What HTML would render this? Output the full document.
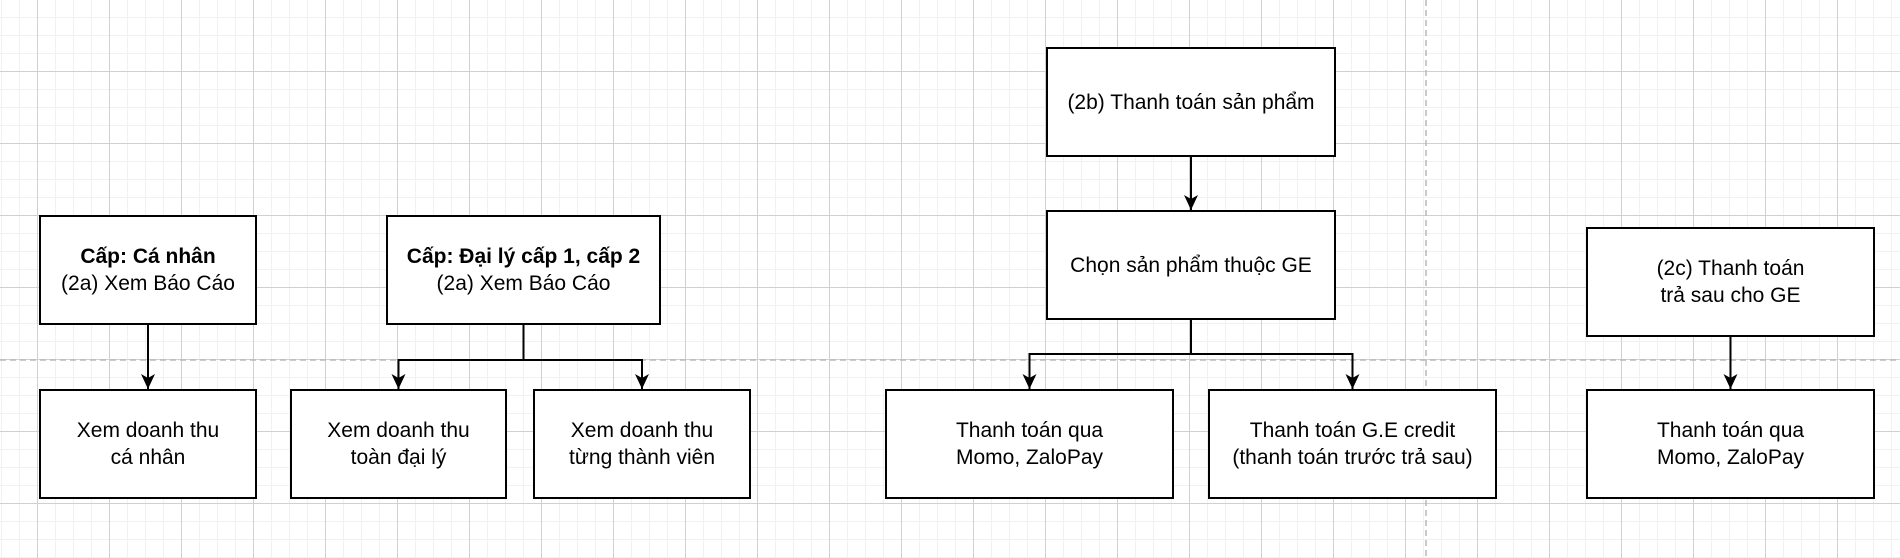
<!DOCTYPE html>
<html><head><meta charset="utf-8"><style>
html,body{margin:0;padding:0;background:#fff;}
svg{display:block;}
text{font-family:"Liberation Sans",Arial,sans-serif;font-size:21px;fill:#000;text-anchor:middle;}
</style></head><body>
<svg width="1900" height="558" xmlns="http://www.w3.org/2000/svg">
<defs>
<pattern id="minor" x="1" y="-1" width="18" height="18" patternUnits="userSpaceOnUse">
<path d="M0 0H18M0 0V18" stroke="#f1f1f1" stroke-width="2" fill="none"/>
</pattern>
<pattern id="major" x="37" y="71" width="72" height="72" patternUnits="userSpaceOnUse">
<path d="M0 0.5H72M0.5 0V72" stroke="#d0d0d0" stroke-width="1" fill="none"/>
</pattern>
<marker id="a" markerWidth="16" markerHeight="16" refX="15" refY="8" orient="auto" markerUnits="userSpaceOnUse">
<path d="M0 1L15 8L0 15L4 8Z" fill="#000"/>
</marker>
</defs>
<rect width="1900" height="558" fill="url(#minor)"/>
<rect width="1900" height="558" fill="url(#major)"/>
<line x1="0" y1="360" x2="1900" y2="360" stroke="#b8b8b8" stroke-width="1.5" stroke-dasharray="6,4"/>
<line x1="1426" y1="0" x2="1426" y2="558" stroke="#b8b8b8" stroke-width="1.5" stroke-dasharray="6,4"/>

<g stroke="#000" stroke-width="2" fill="none">
<path d="M148 324V389" marker-end="url(#a)"/>
<path d="M523.5 324V360H398.5V389" marker-end="url(#a)"/>
<path d="M523.5 360H642V389" marker-end="url(#a)"/>
<path d="M1191 156V210" marker-end="url(#a)"/>
<path d="M1191 319V354H1029.5V389" marker-end="url(#a)"/>
<path d="M1191 354H1352.5V389" marker-end="url(#a)"/>
<path d="M1730.5 336V389" marker-end="url(#a)"/>
</g>

<g stroke="#000" stroke-width="2" fill="#fff">
<rect x="40" y="216" width="216" height="108"/>
<rect x="387" y="216" width="273" height="108"/>
<rect x="40" y="390" width="216" height="108"/>
<rect x="291" y="390" width="215" height="108"/>
<rect x="534" y="390" width="216" height="108"/>
<rect x="1047" y="48" width="288" height="108"/>
<rect x="1047" y="211" width="288" height="108"/>
<rect x="886" y="390" width="287" height="108"/>
<rect x="1209" y="390" width="287" height="108"/>
<rect x="1587" y="228" width="287" height="108"/>
<rect x="1587" y="390" width="287" height="108"/>
</g>

<text x="148" y="263" font-weight="bold">Cấp: Cá nhân</text>
<text x="148" y="290">(2a) Xem Báo Cáo</text>
<text x="523.5" y="263" font-weight="bold">Cấp: Đại lý cấp 1, cấp 2</text>
<text x="523.5" y="290">(2a) Xem Báo Cáo</text>
<text x="148" y="437">Xem doanh thu</text>
<text x="148" y="464">cá nhân</text>
<text x="398.5" y="437">Xem doanh thu</text>
<text x="398.5" y="464">toàn đại lý</text>
<text x="642" y="437">Xem doanh thu</text>
<text x="642" y="464">từng thành viên</text>
<text x="1191" y="109">(2b) Thanh toán sản phẩm</text>
<text x="1191" y="272">Chọn sản phẩm thuộc GE</text>
<text x="1029.5" y="437">Thanh toán qua</text>
<text x="1029.5" y="464">Momo, ZaloPay</text>
<text x="1352.5" y="437">Thanh toán G.E credit</text>
<text x="1352.5" y="464">(thanh toán trước trả sau)</text>
<text x="1730.5" y="275">(2c) Thanh toán</text>
<text x="1730.5" y="302">trả sau cho GE</text>
<text x="1730.5" y="437">Thanh toán qua</text>
<text x="1730.5" y="464">Momo, ZaloPay</text>
</svg>
</body></html>
